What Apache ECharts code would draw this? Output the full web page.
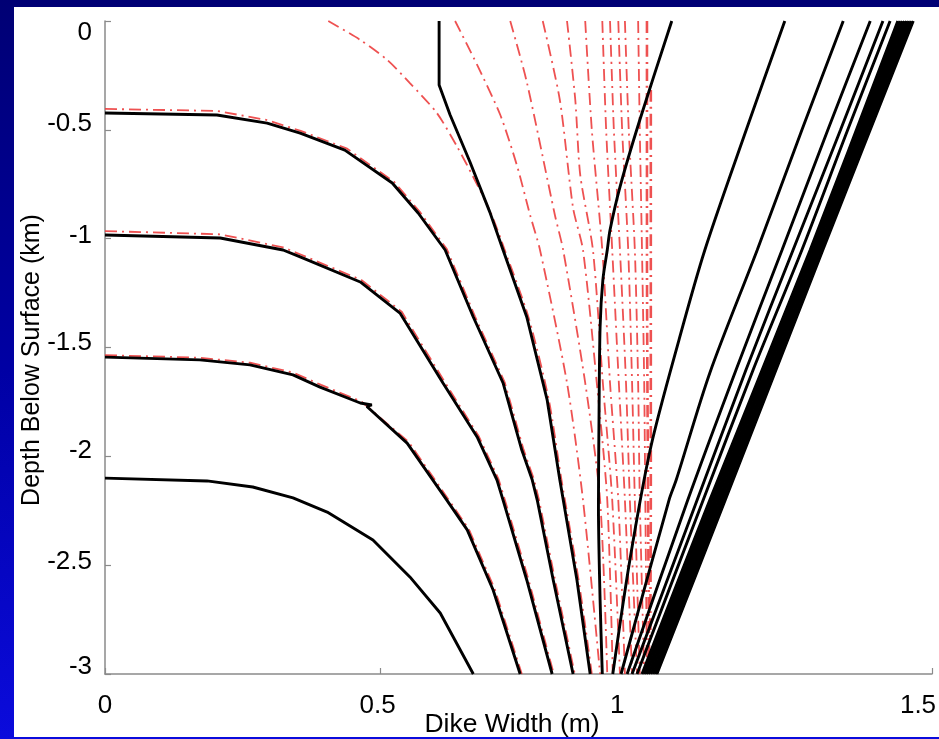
<!DOCTYPE html>
<html>
<head>
<meta charset="utf-8">
<script src="https://cdn.jsdelivr.net/npm/echarts@6/dist/echarts.min.js"></script>
<style>
  html, body { margin: 0; padding: 0; width: 939px; height: 739px; overflow: hidden; }
  body { position: relative; background: linear-gradient(180deg, #000074 0%, #0000a4 50%, #0b0bdc 100%); }
  #panel { position: absolute; left: 14px; top: 7px; width: 925px; height: 730px; background: #ffffff; }
  #chart { position: absolute; left: 0; top: 0; width: 939px; height: 739px; }
</style>
</head>
<body>
<div id="panel"></div>
<div id="chart"></div>
<script>
// Axis ticks
const widthTicks = [0, 0.5, 1, 1.5];
const depthTicks = [0, -0.5, -1, -1.5, -2, -2.5, -3];

// Solid profiles: [dike width (m), depth (km)]
const solidD = [[0,-2.100],[0.185,-2.113],[0.268,-2.141],[0.341,-2.191],[0.403,-2.256],[0.486,-2.384],[0.553,-2.554],[0.608,-2.720],[0.668,-3.000]];
const solidC = [[0,-1.544],[0.172,-1.557],[0.263,-1.580],[0.341,-1.626],[0.390,-1.682],[0.463,-1.755],[0.484,-1.764],[0.475,-1.771],[0.548,-1.939],[0.620,-2.201],[0.657,-2.338],[0.704,-2.614],[0.753,-3.000]];
const solidB = [[0,-0.983],[0.209,-0.997],[0.323,-1.052],[0.354,-1.084],[0.463,-1.199],[0.535,-1.342],[0.613,-1.663],[0.675,-1.911],[0.711,-2.109],[0.722,-2.201],[0.765,-2.568],[0.811,-3.000]];
const solidA = [[0,-0.423],[0.203,-0.432],[0.294,-0.469],[0.354,-0.515],[0.435,-0.593],[0.521,-0.744],[0.568,-0.882],[0.617,-1.052],[0.668,-1.360],[0.722,-1.663],[0.756,-1.971],[0.775,-2.109],[0.784,-2.201],[0.813,-2.568],[0.849,-3.000]];
const solidE = [[0.606,0],[0.606,-0.294],[0.626,-0.432],[0.662,-0.648],[0.698,-0.878],[0.722,-1.052],[0.765,-1.360],[0.802,-1.741],[0.825,-2.109],[0.856,-2.568],[0.880,-3.000]];
const solidF = [[1.028,0],[0.970,-0.455],[0.934,-0.763],[0.916,-0.960],[0.911,-1.052],[0.903,-1.190],[0.898,-1.406],[0.896,-1.833],[0.895,-2.233],[0.898,-2.660],[0.902,-3.000]];
const solidR1 = [[1.233,0],[1.163,-0.501],[1.088,-1.052],[1.041,-1.466],[0.990,-1.957],[0.952,-2.476],[0.921,-3.000]];
const solidR2 = [[1.339,0],[1.264,-0.501],[1.183,-1.052],[1.097,-1.617],[1.036,-2.109],[1.023,-2.201],[0.936,-3.000]];
const solidR3 = [[1.388,0],[1.311,-0.501],[1.228,-1.052],[1.145,-1.600],[1.057,-2.201],[0.947,-3.000]];
const solidR4 = [[1.411,0],[1.334,-0.501],[1.248,-1.052],[1.163,-1.600],[1.074,-2.201],[0.956,-3.000]];
const solidR5 = [[1.424,0],[1.347,-0.501],[1.264,-1.052],[1.176,-1.600],[1.085,-2.201],[0.965,-3.000]];
const bundle1 = [[1.438,0],[1.279,-1.052],[1.097,-2.201],[0.974,-3.000]];
const bundle2 = [[1.442,0],[1.282,-1.052],[1.101,-2.201],[0.978,-3.000]];
const bundle3 = [[1.446,0],[1.286,-1.052],[1.105,-2.201],[0.982,-3.000]];
const bundle4 = [[1.450,0],[1.289,-1.052],[1.109,-2.201],[0.986,-3.000]];
const bundle5 = [[1.454,0],[1.293,-1.052],[1.113,-2.201],[0.990,-3.000]];
const bundle6 = [[1.458,0],[1.296,-1.052],[1.117,-2.201],[0.994,-3.000]];
const bundle7 = [[1.462,0],[1.300,-1.052],[1.121,-2.201],[0.998,-3.000]];
const bundle8 = [[1.466,0],[1.302,-1.052],[1.125,-2.201],[1.001,-3.000]];

// Dash-dot profiles: [dike width (m), depth (km)]
const dashA = [[0,-0.404],[0.203,-0.413],[0.294,-0.455],[0.355,-0.505],[0.438,-0.585],[0.524,-0.738],[0.571,-0.877],[0.620,-1.048],[0.671,-1.357],[0.725,-1.660],[0.759,-1.968],[0.778,-2.106],[0.787,-2.198],[0.816,-2.565],[0.852,-3.000]];
const dashB = [[0,-0.965],[0.209,-0.980],[0.323,-1.040],[0.356,-1.074],[0.465,-1.190],[0.538,-1.335],[0.616,-1.658],[0.678,-1.908],[0.714,-2.106],[0.725,-2.198],[0.768,-2.565],[0.814,-3.000]];
const dashC = [[0,-1.535],[0.172,-1.547],[0.263,-1.570],[0.341,-1.615],[0.392,-1.672],[0.465,-1.748],[0.551,-1.935],[0.623,-2.198],[0.660,-2.335],[0.707,-2.611],[0.756,-3.000]];
const dash1 = [[0.405,0],[0.463,-0.087],[0.512,-0.179],[0.553,-0.285],[0.602,-0.423],[0.639,-0.579],[0.668,-0.717],[0.700,-0.882],[0.725,-1.052],[0.768,-1.360],[0.805,-1.741],[0.828,-2.109],[0.859,-2.568],[0.883,-3.000]];
const dash2 = [[0.635,0],[0.675,-0.202],[0.717,-0.432],[0.747,-0.662],[0.771,-0.891],[0.789,-1.052],[0.838,-1.663],[0.867,-2.201],[0.898,-3.000]];
const dash3 = [[0.735,0],[0.765,-0.280],[0.816,-0.891],[0.831,-1.052],[0.871,-1.663],[0.898,-2.201],[0.911,-3.000]];
const dash4 = [[0.794,0],[0.825,-0.363],[0.849,-0.859],[0.867,-1.052],[0.892,-1.663],[0.911,-2.201],[0.921,-3.000]];
const dash5 = [[0.838,0],[0.853,-0.363],[0.862,-0.708],[0.885,-1.052],[0.903,-1.663],[0.920,-2.201],[0.934,-3.000]];
const dash6 = [[0.871,0],[0.883,-0.501],[0.902,-1.052],[0.916,-1.663],[0.931,-2.201],[0.943,-3.000]];
const dash7 = [[0.902,0],[0.909,-0.501],[0.920,-1.052],[0.932,-1.663],[0.943,-2.201],[0.956,-3.000]];
const dash8 = [[0.916,0],[0.923,-0.501],[0.934,-1.052],[0.945,-1.663],[0.952,-2.201],[0.965,-3.000]];
const dash9 = [[0.931,0],[0.938,-0.501],[0.949,-1.052],[0.956,-1.663],[0.961,-2.201],[0.970,-3.000]];
const dash10 = [[0.943,0],[0.950,-0.501],[0.961,-1.052],[0.967,-1.663],[0.970,-2.201],[0.978,-3.000]];
const dash11 = [[0.967,0],[0.970,-0.501],[0.974,-1.052],[0.978,-1.663],[0.980,-2.201],[0.983,-3.000]];
const dash12 = [[0.983,0],[0.983,-1.052],[0.985,-2.201],[0.987,-3.000]];
const dash13 = [[0.990,-0.317],[0.990,-1.282],[0.990,-2.201],[0.989,-2.844]];

const solidProfiles = [solidD, solidC, solidB, solidA, solidE, solidF, solidR1, solidR2, solidR3, solidR4, solidR5,
  bundle1, bundle2, bundle3, bundle4, bundle5, bundle6, bundle7, bundle8];
const dashedProfiles = [dashA, dashB, dashC, dash1, dash2, dash3, dash4, dash5, dash6, dash7, dash8, dash9, dash10, dash11, dash12, dash13];

// Small nudges for tick label placement (px)
const xLabelPad = { '0': [0, 0, 0, 0], '0.5': [0, 6, 0, 0], '1': [0, 78, 0, 0], '1.5': [0, 28, 0, 0] };
const yLabelPad = { '0': [24, 0, 0, 0], '-0.5': [0, 0, 12, 0], '-1': [0, 0, 6, 0], '-1.5': [0, 0, 10, 0],
  '-2': [0, 0, 12, 0], '-2.5': [0, 0, 6, 0], '-3': [0, 0, 14, 0] };

const FONT = 'Liberation Sans, Arial, sans-serif';
const LABEL_SIZE = 26;
const axisGrey = '#8a8a8a';

function richFor(pads, prefix) {
  const rich = {};
  Object.keys(pads).forEach((k, i) => {
    rich[prefix + i] = { fontSize: LABEL_SIZE, fontFamily: FONT, color: '#000', padding: pads[k] };
  });
  return rich;
}
function fmtFor(pads, prefix) {
  const keys = Object.keys(pads);
  return v => {
    const s = String(v);
    const i = keys.indexOf(s);
    return i < 0 ? s : '{' + prefix + i + '|' + s + '}';
  };
}

const series = [];
dashedProfiles.forEach((d, i) => {
  series.push({
    type: 'line', data: d, symbol: 'none', silent: true, z: 2,
    smooth: i < 3 ? false : 0.25,
    lineStyle: { color: 'rgba(236,62,62,0.9)', width: i >= 14 ? 2.6 : 1.8, type: [12, 5, 2, 5] }
  });
});
solidProfiles.forEach((d, i) => {
  series.push({
    type: 'line', data: d, symbol: 'none', silent: true, z: 3,
    smooth: i < 5 ? false : 0.3,
    lineStyle: { color: '#000', width: 2.9 }
  });
});

const chart = echarts.init(document.getElementById('chart'), null, { renderer: 'canvas' });
chart.setOption({
  animation: false,
  backgroundColor: 'transparent',
  grid: { left: 105, right: 7, top: 21, bottom: 65, containLabel: false, outerBoundsMode: 'none' },
  xAxis: {
    type: 'value', min: widthTicks[0], max: widthTicks[widthTicks.length - 1], interval: 0.5,
    name: 'Dike Width (m)', nameLocation: 'middle', nameGap: 37, nameMoveOverlap: false,
    nameTextStyle: { fontSize: 26.5, fontFamily: FONT, color: '#000', padding: [0, 13, 0, 0] },
    axisLine: { onZero: false, lineStyle: { color: axisGrey, width: 1.5 } },
    axisTick: { inside: true, length: 6, lineStyle: { color: axisGrey, width: 1.2 } },
    axisLabel: { margin: 19, fontSize: LABEL_SIZE, fontFamily: FONT, color: '#000',
      formatter: fmtFor(xLabelPad, 'x'), rich: richFor(xLabelPad, 'x') },
    splitLine: { show: false }
  },
  yAxis: {
    type: 'value', min: depthTicks[depthTicks.length - 1], max: depthTicks[0], interval: 0.5,
    name: 'Depth Below Surface (km)', nameLocation: 'middle', nameGap: 60, nameRotate: 90, nameMoveOverlap: false,
    nameTextStyle: { fontSize: 25, fontFamily: FONT, color: '#000', padding: [0, 25, 0, 0] },
    axisLine: { onZero: false, lineStyle: { color: axisGrey, width: 1.5 } },
    axisTick: { inside: true, length: 6, lineStyle: { color: axisGrey, width: 1.2 } },
    axisLabel: { margin: 13, fontSize: LABEL_SIZE, fontFamily: FONT, color: '#000',
      formatter: fmtFor(yLabelPad, 'y'), rich: richFor(yLabelPad, 'y') },
    splitLine: { show: false }
  },
  series: series
});
</script>
</body>
</html>
